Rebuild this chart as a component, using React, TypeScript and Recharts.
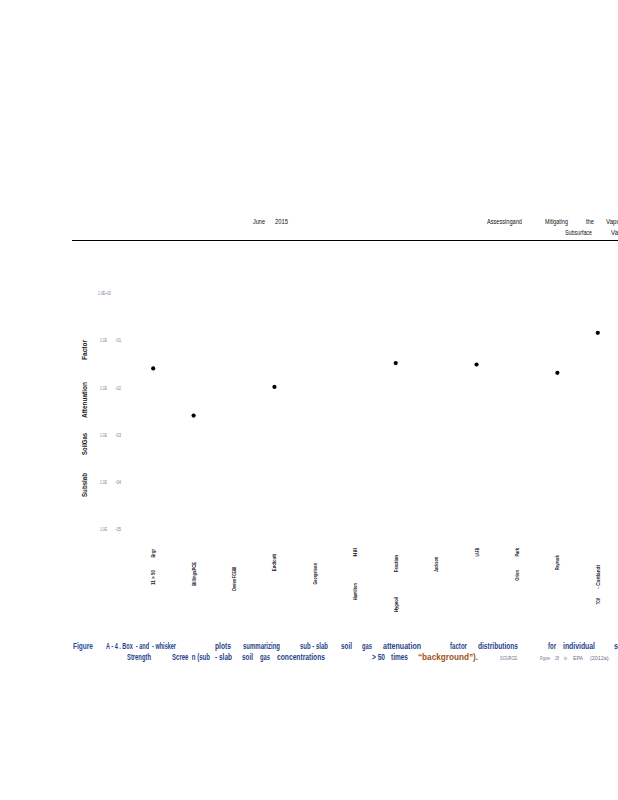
import React from 'react'
import { ScatterChart, Scatter, XAxis, YAxis } from 'recharts'

// sites along the x axis ('|' splits the lower and upper part of the rotated label)
const sites = [
  '11 > 50|Brgr',
  'BillingsPCE',
  'DenverFCE88',
  'Endicott',
  'Georgetown',
  'Hamilton|Hill',
  'Hygeoil|Fraction',
  'Jackson',
  'LAFB',
  'Orion|Park',
  'Raymark',
  'TCM|- Cortlandt',
]

// sub-slab attenuation factor (median marker), null where nothing is drawn
const attenuation = [0.0253, 0.00255, null, 0.0103, null, null, 0.0329, null, 0.0307, null, 0.0205, 0.144]

const yTicks = [1, 0.1, 0.01, 0.001, 0.0001, 0.00001]
const yTickLabels = ['1.0E+00', '1.0E|-01', '1.0E|-02', '1.0E|-03', '1.0E|-04', '1.0E|-05']

const yLabelWords = ['Subslab', 'SoilGas', 'Attenuation', 'Factor']

const font = "'Liberation Sans', Arial, sans-serif"

// page text (not chart data): [word, x, width]
const headerLine1: [string, number, number][] = [
  ['June', 253, 12], ['2015', 275, 13], ['Assessingand', 487, 35], ['Mitigating', 545, 23], ['the', 586, 8], ['Vapor', 606, 16],
]
const headerLine2: [string, number, number][] = [['Subsurface', 565, 27], ['Vapor', 611, 16]]
const captionLine1: [string, number, number][] = [
  ['Figure', 73, 20], ['A - 4 . Box \u00a0- and \u00a0- whisker', 106, 70], ['plots', 215, 16],
  ['summarizing', 243, 37], ['sub - slab', 300, 28], ['soil', 341, 11], ['gas', 362, 10], ['attenuation', 383, 38],
  ['factor', 450, 17], ['distributions', 478, 40], ['for', 548, 8], ['individual', 563, 32], ['s', 614, 4],
]
const captionLine2: [string, number, number][] = [
  ['Strength', 127, 24], ['Scree \u00a0n (sub', 172, 38], ['- slab', 215, 17], ['soil', 242, 11],
  ['gas', 260, 10], ['concentrations', 277, 48], ['> 50', 372, 13], ['times', 391, 17],
  ['\u201cbackground\u201d).', 418, 60],
]
const sourceLine: [string, number, number][] = [
  ['SOURCE:', 500, 18], ['Figure', 540, 10], ['28', 555, 4], ['in', 564, 3], ['EPA', 573, 10], ['(2012a).', 590, 20],
]

// tick label layout: page-y of the top of each label part [lower, upper]
const tickTops: number[][] = [
  [570, 549], [562], [567], [554], [563], [583, 548], [597, 555], [557], [548], [570, 548], [555], [598, 565],
]

const points = sites
  .map((s, i) => ({ idx: i, af: attenuation[i] }))
  .filter((d) => d.af !== null)

const SiteTick = (props: any) => {
  const { x, payload } = props
  const parts = sites[payload.value].split('|')
  const tops = tickTops[payload.value]
  return (
    <g>
      {parts.map((p, k) => (
        <text
          key={k}
          x={x + 2}
          y={tops[k]}
          transform={`rotate(-90, ${x + 2}, ${tops[k]})`}
          textAnchor="end"
          fontSize={5.8}
          fontWeight="bold"
          fontFamily={font}
          textLength={p.length * 2.15}
          lengthAdjust="spacingAndGlyphs"
          fill="#14142a"
        >
          {p}
        </text>
      ))}
    </g>
  )
}

const AfTick = (props: any) => {
  const { y, payload, index } = props
  const label = yTickLabels[yTicks.indexOf(payload.value)] ?? yTickLabels[index]
  if (!label) return null
  const [a, b] = label.split('|')
  return (
    <g fontSize={5} fontFamily={font} fill="#7d86a3">
      <text x={b ? 100 : 98} y={y + 2} textLength={b ? 7 : 13} lengthAdjust="spacingAndGlyphs">{a}</text>
      {b && <text x={115} y={y + 2} textLength={6} lengthAdjust="spacingAndGlyphs">{b}</text>}
    </g>
  )
}

const YLabel = (props: any) => {
  const { viewBox } = props
  const x = viewBox.x + 27
  const bottoms = [viewBox.y + 204, viewBox.y + 162, viewBox.y + 125, viewBox.y + 67]
  const widths = [24, 22, 36, 20]
  return (
    <g>
      {yLabelWords.map((w, i) => (
        <text
          key={w}
          x={x}
          y={bottoms[i]}
          transform={`rotate(-90, ${x}, ${bottoms[i]})`}
          fontSize={7.5}
          fontWeight="bold"
          fontFamily={font}
          textLength={widths[i]}
          lengthAdjust="spacingAndGlyphs"
          fill="#1a1a1a"
        >
          {w}
        </text>
      ))}
    </g>
  )
}

const Words = ({ words, y, size, color, weight }: { words: [string, number, number][]; y: number; size: number; color: string; weight?: string }) => (
  <>
    {words.map(([w, x, len], i) => (
      <text key={i} x={x} y={y} fontSize={size} fontFamily={font} fill={color} fontWeight={weight} textLength={len} lengthAdjust="spacingAndGlyphs">
        {w}
      </text>
    ))}
  </>
)

export default function App() {
  return (
    <div style={{ position: 'absolute', left: 0, top: 0, width: 618, height: 800, overflow: 'hidden', background: '#fff' }}>
      <svg width={618} height={800} style={{ position: 'absolute', left: 0, top: 0 }}>
        <Words words={headerLine1} y={224} size={7} color="#111" />
        <Words words={headerLine2} y={235} size={7} color="#111" />
        <line x1={72} x2={618} y1={240.5} y2={240.5} stroke="#000" strokeWidth={1.2} />
        <Words words={captionLine1.slice(0, 1)} y={649} size={8.5} color="#1f4fa3" weight="bold" />
        <Words words={captionLine1.slice(1)} y={649} size={8.5} color="#1f3f8a" weight="bold" />
        <Words words={captionLine2.slice(0, -1)} y={660} size={8.5} color="#1f3f8a" weight="bold" />
        <Words words={captionLine2.slice(-1)} y={660} size={8.5} color="#a0521a" weight="bold" />
        <Words words={sourceLine} y={660} size={5.5} color="#6a7290" />
      </svg>
      <div style={{ position: 'absolute', left: 0, top: 0 }}>
        <ScatterChart width={618} height={800} margin={{ top: 293, right: 0, bottom: 180.7, left: 60 }}>
          <XAxis
            type="number"
            dataKey="idx"
            domain={[-0.5, 11.5]}
            ticks={sites.map((s, i) => i)}
            interval={0}
            axisLine={false}
            tickLine={false}
            tickSize={0}
            tickMargin={0}
            height={90}
            tick={<SiteTick />}
          />
          <YAxis
            type="number"
            dataKey="af"
            scale="log"
            domain={[0.00001, 1]}
            ticks={yTicks}
            allowDataOverflow
            axisLine={false}
            tickLine={false}
            width={73}
            tick={<AfTick />}
            label={<YLabel />}
          />
          <Scatter
            data={points}
            isAnimationActive={false}
            shape={(p: any) => <circle cx={p.cx} cy={p.cy} r={2.1} fill="#000" />}
          />
        </ScatterChart>
      </div>
    </div>
  )
}
